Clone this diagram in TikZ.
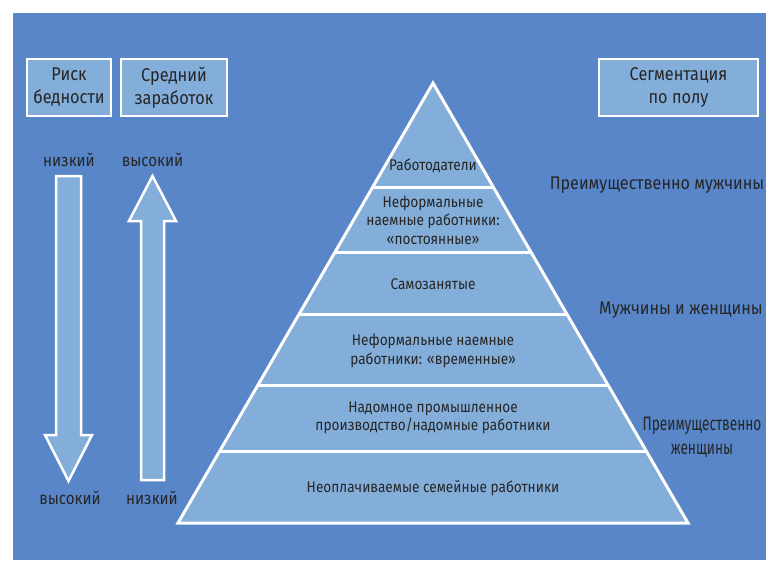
\documentclass[tikz,border=0pt]{standalone}
\usepackage{fontspec}
\setmainfont{Fira Sans}[FakeStretch=0.88]
\newfontfamily\narrowfont{Fira Sans}[FakeStretch=0.7]
\usetikzlibrary{calc}
\definecolor{bgblue}{HTML}{5886C8}
\definecolor{lightblue}{HTML}{84AEDA}
\definecolor{txt}{HTML}{262626}
\begin{document}
\begin{tikzpicture}[x=1pt,y=-1pt,
  hdrbox/.style={draw=white,line width=2.5pt,fill=lightblue,text=txt,font=\fontsize{18.5}{23}\selectfont,align=center,inner sep=0pt},
  lvl/.style={text=txt,font=\fontsize{15.5}{18.5}\selectfont,align=center},
  side/.style={text=txt,font=\fontsize{18.3}{22}\selectfont,align=center},
  narrowside/.style={text=txt,font=\narrowfont\fontsize{19.5}{24}\selectfont,align=center},
  arlbl/.style={text=txt,font=\fontsize{17.2}{20}\selectfont},
  arrowshape/.style={draw=white,line width=2.5pt,fill=lightblue,line join=miter},
  sep/.style={draw=white,line width=3pt}]
\useasboundingbox (0,0) rectangle (766,560);
\fill[bgblue] (13,13) rectangle (766,560);
% header boxes
\node[hdrbox,minimum width=84pt,minimum height=57pt] (risk) at (69,87.5) {Риск\\бедности};
\node[hdrbox,minimum width=106pt,minimum height=57pt] (wage) at (174,87.5) {Средний\\заработок};
\node[hdrbox,minimum width=159pt,minimum height=57pt] (seg) at (678.5,87.5) {Сегментация\\по полу};
% arrows
\draw[arrowshape] (56,176) -- (81,176) -- (81,435) -- (92,435) -- (68.5,481) -- (45,435) -- (56,435) -- cycle;
\draw[arrowshape] (152.5,176) -- (176,221) -- (164,221) -- (164,480) -- (141,480) -- (141,221) -- (129,221) -- cycle;
\node[arlbl] (lowA) at (69,160) {низкий};
\node[arlbl] (highA) at (152.5,160) {высокий};
\node[arlbl] (highB) at (70,498) {высокий};
\node[arlbl] (lowB) at (152,498) {низкий};
% pyramid
\coordinate (apex) at (433,83);
\coordinate (bl) at (178,523);
\coordinate (br) at (688,523);
\fill[lightblue] (apex) -- (bl) -- (br) -- cycle;
\foreach \t [count=\i] in {0.2386,0.3841,0.525,0.6864,0.8364}{
  \coordinate (l\i) at ($(apex)!\t!(bl)$);
  \coordinate (r\i) at ($(apex)!\t!(br)$);
  \draw[sep] (l\i) -- (r\i);
}
\draw[white,line width=3pt,line join=miter] (apex) -- (bl) -- (br) -- cycle;
\node[lvl] (p1) at (433,166) {Работодатели};
\node[lvl] (p2) at (433,220) {Неформальные\\наемные работники:\\«постоянные»};
\node[lvl] (p3) at (433,284) {Самозанятые};
\node[lvl] (p4) at (433,351) {Неформальные наемные\\работники: «временные»};
\node[lvl] (p5) at (433,418) {Надомное промышленное\\производство/надомные работники};
\node[lvl] (p6) at (433,488) {Неоплачиваемые семейные работники};
% side labels
\node[side] (men) at (657,185) {Преимущественно мужчины};
\node[side] (both) at (681,310) {Мужчины и женщины};
\node[narrowside] (women) at (702,437) {Преимущественно\\женщины};
\end{tikzpicture}
\end{document}
